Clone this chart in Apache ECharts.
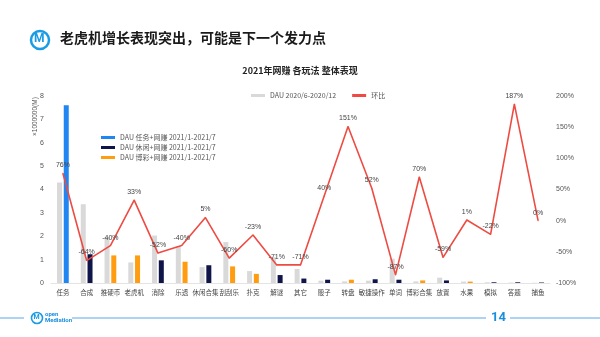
<!DOCTYPE html>
<html>
<head>
<meta charset="utf-8">
<script src="https://cdn.jsdelivr.net/npm/echarts@6/dist/echarts.min.js"></script>
<style>
  html, body { margin: 0; padding: 0; background: #ffffff; }
  #chart { width: 600px; height: 337px; }
</style>
</head>
<body>
<div id="chart"></div>
<script>
// Play types
const categories = ['任务', '合成', '推硬币', '老虎机', '消除', '乐透', '休闲合集', '刮刮乐', '扑克', '解谜', '其它',
  '骰子', '转盘', '敏捷操作', '单词', '博彩合集', '放置', '水果', '模拟', '答题', '捕鱼'];

// DAU (millions), 2020/6-2020/12
const dauPrev = [4.3, 3.37, 1.97, 0.88, 2.03, 1.57, 0.68, 1.75, 0.51, 1.1, 0.6,
  0.1, 0.07, 0.1, 1.04, 0.07, 0.23, 0.06, 0.03, 0.02, 0.01];

// DAU (millions), 2021/1-2021/7, split by genre group
const dauTask = [7.6, null, null, null, null, null, null, null, null, null, null,
  null, null, null, null, null, null, null, null, null, null];
const dauCasual = [null, 1.23, null, null, 0.97, null, 0.76, null, null, 0.34, 0.19,
  0.14, null, 0.16, 0.14, null, 0.11, null, 0.03, 0.03, 0.02];
const dauGamble = [null, null, 1.18, 1.18, null, 0.91, null, 0.71, 0.39, null, null,
  null, 0.14, null, null, 0.11, null, 0.06, null, null, null];

// Period-over-period change (%)
const ratio = [76, -64, -40, 33, -52, -40, 5, -60, -23, -71, -71,
  40, 151, 52, -87, 70, -59, 1, -22, 187, 0];

const leftTicks = { min: 0, max: 8, interval: 1 };
const rightTicks = { min: -100, max: 200, interval: 50 };

const C_GRAY = '#d9d9d9';
const C_BLUE = '#1f86f2';
const C_NAVY = '#0f1548';
const C_ORANGE = '#ff9c0f';
const C_RED = '#ee4b43';
const C_LINE = '#5aa8e8';

const chart = echarts.init(document.getElementById('chart'));

const smallText = { fontFamily: 'Noto Sans CJK SC', fontSize: 7, color: '#555' };

chart.setOption({
  backgroundColor: '#ffffff',
  animation: false,
  title: {
    text: '2021年网赚 各玩法 整体表现',
    left: 'center',
    top: 61,
    textStyle: { fontFamily: 'Noto Sans CJK SC', fontSize: 9, fontWeight: 'bold', color: '#222' }
  },
  legend: [
    {
      data: ['DAU 2020/6-2020/12', '环比'],
      top: 87,
      left: 246,
      itemWidth: 14,
      itemHeight: 3,
      itemGap: 16,
      icon: 'rect',
      textStyle: smallText
    },
    {
      data: ['DAU 任务+网赚 2021/1-2021/7', 'DAU 休闲+网赚 2021/1-2021/7', 'DAU 博彩+网赚 2021/1-2021/7'],
      orient: 'vertical',
      top: 129,
      left: 96,
      itemWidth: 14,
      itemHeight: 3,
      itemGap: 3,
      icon: 'rect',
      textStyle: smallText
    }
  ],
  grid: { left: 51, right: 50, top: 96, bottom: 54 },
  xAxis: {
    type: 'category',
    data: categories,
    axisTick: { show: false },
    axisLine: { lineStyle: { color: '#e4e4e4' } },
    axisLabel: { interval: 0, fontFamily: 'Noto Sans CJK SC', fontSize: 6.5, color: '#444', margin: 6 }
  },
  yAxis: [
    {
      type: 'value',
      min: leftTicks.min, max: leftTicks.max, interval: leftTicks.interval,
      splitLine: { show: false },
      axisLine: { show: false },
      axisLabel: { fontSize: 7, color: '#555', margin: 7 }
    },
    {
      type: 'value',
      min: rightTicks.min, max: rightTicks.max, interval: rightTicks.interval,
      splitLine: { show: false },
      axisLine: { show: false },
      axisLabel: { fontSize: 7, color: '#555', margin: 6, formatter: '{value}%' }
    }
  ],
  series: [
    {
      name: 'DAU 2020/6-2020/12',
      type: 'bar',
      data: dauPrev,
      barWidth: 5,
      barGap: '35%',
      itemStyle: { color: C_GRAY }
    },
    {
      name: 'DAU 任务+网赚 2021/1-2021/7',
      type: 'bar', stack: 'dau21', data: dauTask, barWidth: 5,
      itemStyle: { color: C_BLUE }
    },
    {
      name: 'DAU 休闲+网赚 2021/1-2021/7',
      type: 'bar', stack: 'dau21', data: dauCasual, barWidth: 5,
      itemStyle: { color: C_NAVY }
    },
    {
      name: 'DAU 博彩+网赚 2021/1-2021/7',
      type: 'bar', stack: 'dau21', data: dauGamble, barWidth: 5,
      itemStyle: { color: C_ORANGE }
    },
    {
      name: '环比',
      type: 'line',
      yAxisIndex: 1,
      data: ratio,
      symbol: 'circle',
      symbolSize: 1,
      showSymbol: true,
      lineStyle: { color: C_RED, width: 1.6 },
      itemStyle: { color: C_RED },
      label: {
        show: true,
        position: 'top',
        distance: 4,
        fontSize: 7,
        color: '#444',
        formatter: '{c}%'
      },
      labelLayout: { hideOverlap: false },
      z: 5
    }
  ],
  graphic: [
    // header logo
    { type: 'circle', shape: { cx: 40, cy: 40, r: 9 }, style: { fill: 'none', stroke: '#1a9be6', lineWidth: 2.5 } },
    { type: 'text', left: 34, top: 33, style: { text: 'M', fontFamily: 'Roboto', fontWeight: 'bold', fontSize: 12, fill: '#1a9be6' } },
    // header title
    { type: 'text', left: 60, top: 31, style: { text: '老虎机增长表现突出，可能是下一个发力点', fontFamily: 'Noto Sans CJK SC', fontWeight: 'bold', fontSize: 14, fill: '#1a1a1a' } },
    // left axis unit
    { type: 'text', x: 32, y: 136, rotation: Math.PI / 2, style: { text: '×1000000(M)', fontSize: 6.5, fill: '#555' } },
    // footer rules
    { type: 'line', shape: { x1: 0, y1: 318, x2: 24, y2: 318 }, style: { stroke: C_LINE, lineWidth: 1 } },
    { type: 'line', shape: { x1: 72, y1: 318, x2: 486, y2: 318 }, style: { stroke: C_LINE, lineWidth: 1 } },
    { type: 'line', shape: { x1: 510, y1: 318, x2: 600, y2: 318 }, style: { stroke: C_LINE, lineWidth: 1 } },
    // footer logo
    { type: 'circle', shape: { cx: 37, cy: 318, r: 5.5 }, style: { fill: 'none', stroke: '#1a9be6', lineWidth: 1.6 } },
    { type: 'text', left: 33.5, top: 314, style: { text: 'M', fontFamily: 'Roboto', fontWeight: 'bold', fontSize: 7, fill: '#1a9be6' } },
    { type: 'text', left: 45, top: 311, style: { text: 'open', fontFamily: 'Roboto', fontWeight: 'bold', fontSize: 6, fill: '#1a8fe0' } },
    { type: 'text', left: 45, top: 317, style: { text: 'Mediation', fontFamily: 'Roboto', fontWeight: 'bold', fontSize: 6, fill: '#1a8fe0' } },
    // page number
    { type: 'text', left: 491, top: 311, style: { text: '14', fontFamily: 'Roboto', fontWeight: 'bold', fontSize: 13, fill: '#1a8fe0' } }
  ]
});
</script>
</body>
</html>
